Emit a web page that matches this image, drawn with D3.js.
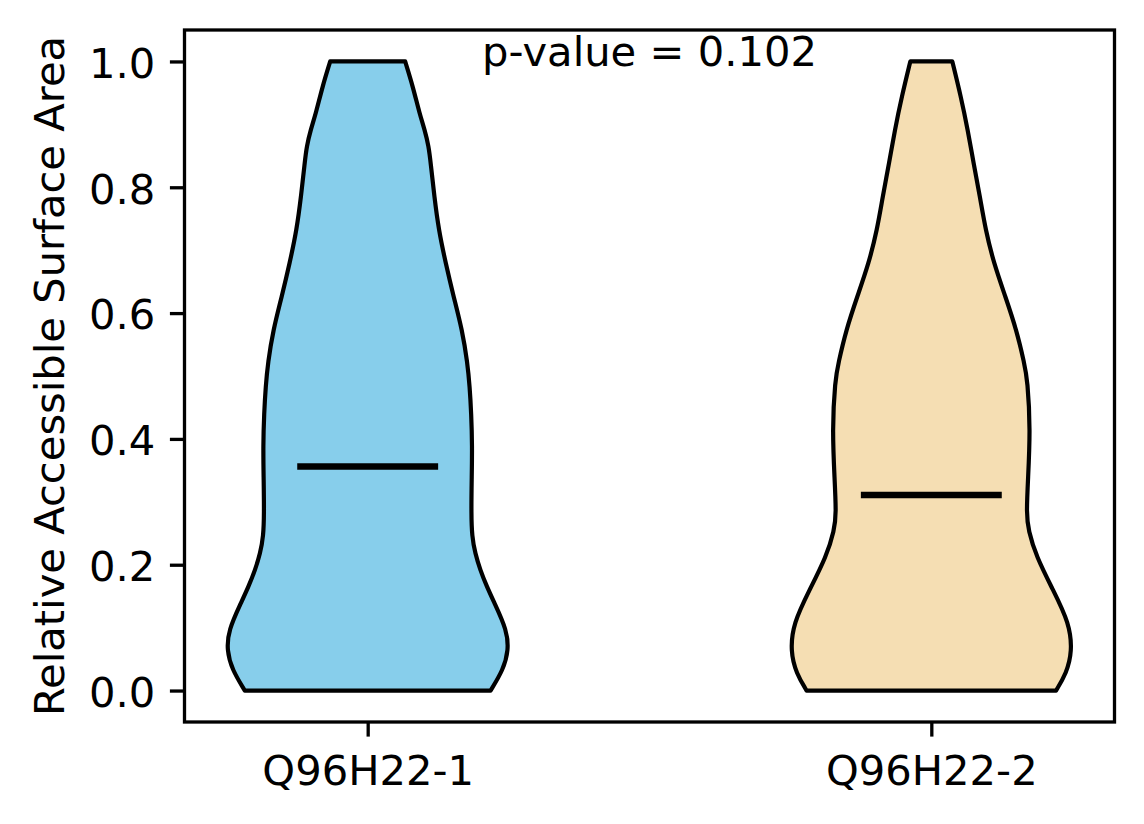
<!DOCTYPE html>
<html>
<head>
<meta charset="utf-8">
<script src="https://cdn.jsdelivr.net/npm/d3@7"></script>
<style>
  body { margin: 0; background: #fff; }
  svg text { font-family: 'DejaVu Sans', sans-serif; fill: #000; }
</style>
</head>
<body>
<div id="chart"></div>
<script>
// groups and summary values
const categories = ['Q96H22-1', 'Q96H22-2'];
const positions = [1, 2];
const medians = [0.356, 0.311];
const pValue = 0.102;
const yTicks = [0, 0.2, 0.4, 0.6, 0.8, 1.0];
const fills = ['#87CEEB', '#F5DEB3'];

// density profiles (value, width scaled so max = 1)
const rsa1 = [0, 0.033, 0.064, 0.096, 0.139, 0.165, 0.192, 0.218, 0.245, 0.282, 0.335, 0.388, 0.441, 0.483, 0.521, 0.573, 0.626, 0.68, 0.732, 0.785, 0.839, 0.865, 0.891, 0.918, 0.96, 1.0];
const density1 = [0.872, 0.962, 1.0, 0.988, 0.90, 0.846, 0.798, 0.763, 0.740, 0.735, 0.738, 0.742, 0.735, 0.724, 0.708, 0.671, 0.61, 0.553, 0.504, 0.473, 0.447, 0.433, 0.405, 0.367, 0.321, 0.266];

const rsa2 = [0, 0.027, 0.062, 0.107, 0.16, 0.213, 0.255, 0.282, 0.335, 0.414, 0.494, 0.52, 0.573, 0.626, 0.679, 0.732, 0.785, 0.838, 0.891, 0.944, 1.0];
const density2 = [0.885, 0.958, 1.0, 0.98, 0.864, 0.745, 0.688, 0.675, 0.686, 0.703, 0.683, 0.66, 0.605, 0.526, 0.444, 0.385, 0.345, 0.30, 0.259, 0.21, 0.149];

function drawChart() {
  const width = 1144;
  const height = 824;
  const fontSize = 41.67;
  const tickLen = 14.6;
  const spineW = 3.3;
  const halfWidth = 0.25; // violin half width in x units

  const box = { left: 184.5, right: 1114.5, top: 30, bottom: 722 };

  const svg = d3.select('#chart')
    .append('svg')
    .attr('width', width)
    .attr('height', height);

  const xScale = d3.scaleLinear()
    .domain([0.675, 2.325])
    .range([box.left, box.right]);

  const yScale = d3.scaleLinear()
    .domain([-0.05, 1.05])
    .range([box.bottom, box.top]);

  const profiles = [
    rsa1.map((v, i) => ({ v, w: density1[i] })),
    rsa2.map((v, i) => ({ v, w: density2[i] })),
  ];

  // violins
  const violins = svg.append('g').attr('class', 'violins');
  profiles.forEach((profile, i) => {
    const pos = positions[i];
    const area = d3.area()
      .curve(d3.curveBasis)
      .y((d) => yScale(d.v))
      .x0((d) => xScale(pos - halfWidth * d.w))
      .x1((d) => xScale(pos + halfWidth * d.w));

    violins.append('path')
      .attr('d', area(profile))
      .attr('fill', fills[i])
      .attr('stroke', '#000')
      .attr('stroke-width', 4.2)
      .attr('stroke-linejoin', 'round');
  });

  // median lines
  svg.append('g')
    .selectAll('line')
    .data(medians)
    .join('line')
    .attr('x1', (d, i) => xScale(positions[i] - halfWidth / 2))
    .attr('x2', (d, i) => xScale(positions[i] + halfWidth / 2))
    .attr('y1', (d) => yScale(d))
    .attr('y2', (d) => yScale(d))
    .attr('stroke', '#000')
    .attr('stroke-width', 6.5);

  // axes
  const yAxis = d3.axisLeft(yScale)
    .tickValues(yTicks)
    .tickFormat(d3.format('.1f'))
    .tickSize(tickLen)
    .tickPadding(tickLen);

  const xAxis = d3.axisBottom(xScale)
    .tickValues(positions)
    .tickFormat((d, i) => categories[i])
    .tickSize(tickLen)
    .tickPadding(tickLen);

  const gy = svg.append('g')
    .attr('transform', `translate(${box.left},0)`)
    .call(yAxis);
  gy.select('.domain').remove();
  gy.selectAll('.tick line').attr('stroke-width', spineW);
  gy.selectAll('.tick text')
    .attr('font-size', fontSize)
    .attr('dy', '0.38em');

  const gx = svg.append('g')
    .attr('transform', `translate(0,${box.bottom})`)
    .call(xAxis);
  gx.select('.domain').remove();
  gx.selectAll('.tick line').attr('stroke-width', spineW);
  gx.selectAll('.tick text')
    .attr('font-size', fontSize)
    .attr('y', 63)
    .attr('dy', null);

  svg.selectAll('.tick text').attr('font-family', "'DejaVu Sans', sans-serif");

  // frame
  svg.append('rect')
    .attr('x', box.left)
    .attr('y', box.top)
    .attr('width', box.right - box.left)
    .attr('height', box.bottom - box.top)
    .attr('fill', 'none')
    .attr('stroke', '#000')
    .attr('stroke-width', spineW);

  // y label
  svg.append('text')
    .attr('transform', `translate(63.5,${(box.top + box.bottom) / 2}) rotate(-90)`)
    .attr('text-anchor', 'middle')
    .attr('font-size', fontSize)
    .text('Relative Accessible Surface Area');

  // p-value annotation
  svg.append('text')
    .attr('x', xScale(1.5))
    .attr('y', yScale(1.0) + 4.5)
    .attr('text-anchor', 'middle')
    .attr('font-size', fontSize)
    .text(`p-value = ${pValue}`);
}

drawChart();
</script>
</body>
</html>
